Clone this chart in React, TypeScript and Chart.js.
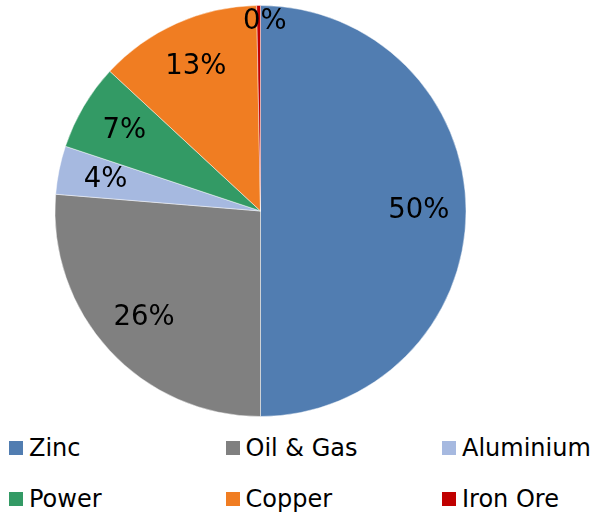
import React, { useEffect, useRef } from "react";
import { Chart, registerables } from "chart.js";

Chart.register(...registerables);

// Share of exposure by sector (percent of total)
const sectors = ["Zinc", "Oil & Gas", "Aluminium", "Power", "Copper", "Iron Ore"];
const shares = [50.0, 26.3, 3.8, 6.8, 12.8, 0.3];
const sliceColors = ["#517DB1", "#808080", "#A6B9E0", "#339A65", "#F07D22", "#C00000"];

const FONT = "'DejaVu Sans', Verdana, sans-serif";

// Writes each slice's rounded percentage inside the pie
const percentLabels = {
  id: "percentLabels",
  afterDatasetsDraw(chart: Chart) {
    const ctx = chart.ctx;
    const meta = chart.getDatasetMeta(0);
    const values = chart.data.datasets[0].data as number[];
    const total = values.reduce((a, b) => a + b, 0);
    ctx.save();
    ctx.font = `27.5px ${FONT}`;
    ctx.fillStyle = "#000";
    ctx.textAlign = "center";
    ctx.textBaseline = "middle";
    meta.data.forEach((el: any, i: number) => {
      const { x, y, startAngle, endAngle, outerRadius } = el.getProps(
        ["x", "y", "startAngle", "endAngle", "outerRadius"],
        true
      );
      const pct = (values[i] / total) * 100;
      const mid = (startAngle + endAngle) / 2;
      const small = pct < 2;
      const f = small ? 0.92 : 0.77;
      const lx = x + Math.cos(mid) * outerRadius * f + (small ? 6 : 0);
      const ly = y + Math.sin(mid) * outerRadius * f;
      ctx.fillText(`${Math.round(pct)}%`, lx, ly);
    });
    ctx.restore();
  },
};

export default function App() {
  const canvasRef = useRef<HTMLCanvasElement>(null);

  useEffect(() => {
    if (!canvasRef.current) return;
    const chart = new Chart(canvasRef.current, {
      type: "pie",
      data: {
        labels: sectors,
        datasets: [
          {
            data: shares,
            backgroundColor: sliceColors,
            borderColor: "rgba(255,255,255,0.45)",
            borderWidth: 1,
          },
        ],
      },
      options: {
        responsive: false,
        animation: false,
        layout: { padding: { left: 54.5, right: 125.5, top: 5, bottom: 7 } },
        plugins: {
          legend: { display: false },
          tooltip: { enabled: false },
        },
      },
      plugins: [percentLabels],
    });
    return () => chart.destroy();
  }, []);

  return (
    <div style={{ position: "absolute", left: 0, top: 0, width: 592, height: 515, background: "#fff" }}>
      <canvas ref={canvasRef} width={592} height={424} style={{ position: "absolute", left: 0, top: 0 }} />
      {sectors.map((name, i) => {
        const col = i % 3;
        const row = Math.floor(i / 3);
        return (
          <div
            key={name}
            style={{
              position: "absolute",
              left: 9 + col * 216.5,
              top: 448 + row * 51 - 15,
              height: 30,
              display: "flex",
              alignItems: "center",
              fontFamily: FONT,
              fontSize: 24,
              color: "#000",
              whiteSpace: "nowrap",
            }}
          >
            <span style={{ display: "inline-block", width: 14, height: 14, background: sliceColors[i], marginRight: 6 }} />
            <span>{name}</span>
          </div>
        );
      })}
    </div>
  );
}
